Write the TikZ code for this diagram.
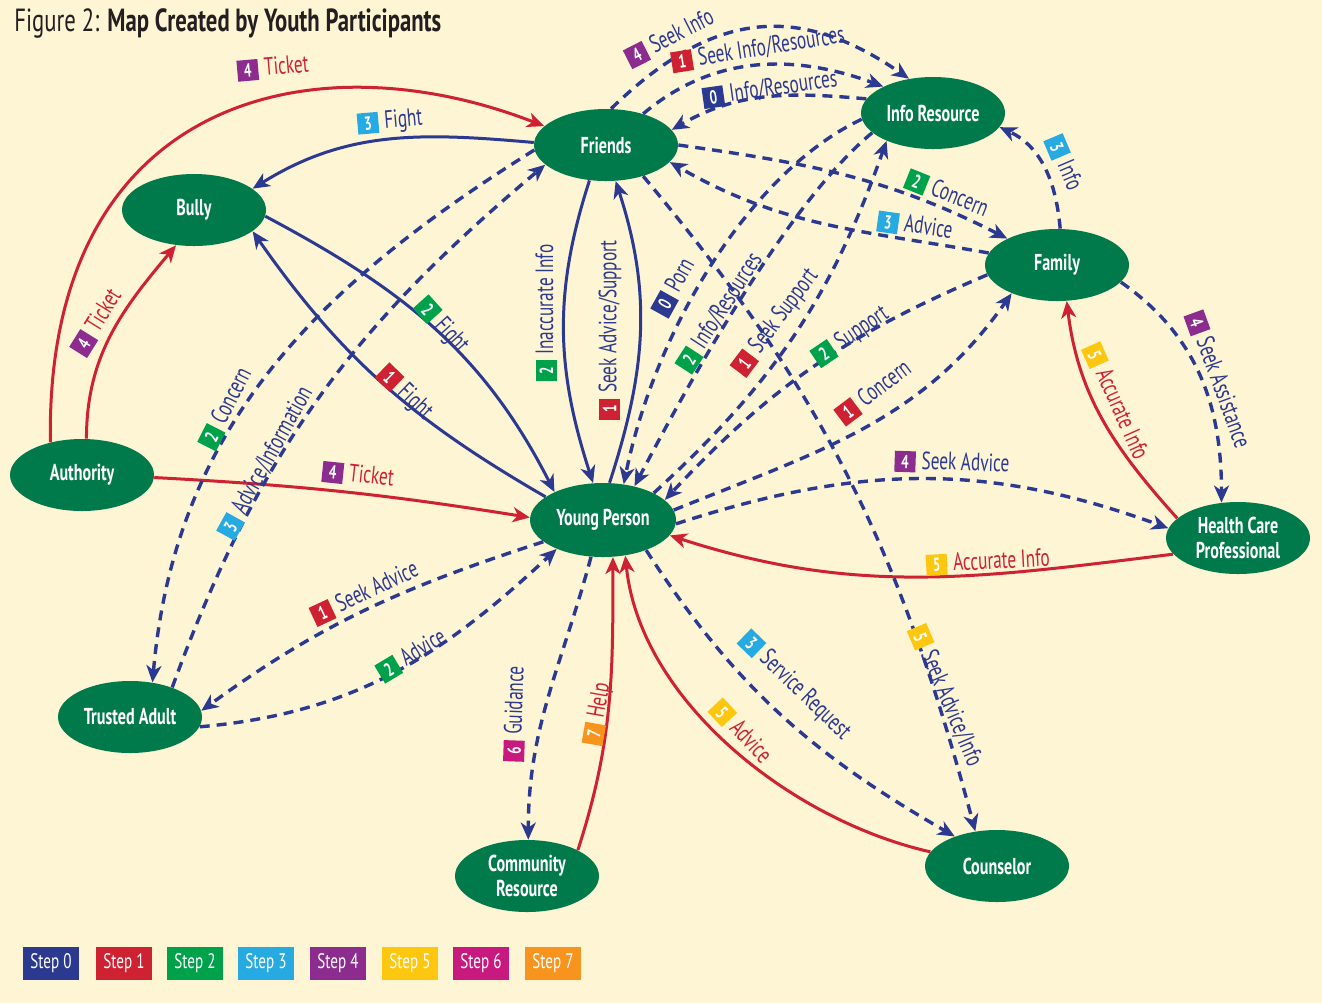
\documentclass[tikz,border=0pt]{standalone}
\usepackage{fontspec}
\setmainfont[FakeStretch=0.75]{PT Sans}
\newfontfamily\lblfont[FakeStretch=0.69]{PT Sans}
\newfontfamily\entfont[FakeStretch=0.7]{PT Sans}
\newfontfamily\ttlfont[FakeStretch=0.71]{PT Sans}
\newfontfamily\lgdfont[FakeStretch=0.72]{PT Sans}
\usetikzlibrary{shapes.geometric,arrows.meta,topaths}
\definecolor{bgc}{HTML}{FEF5D4}
\definecolor{ngreen}{HTML}{007A4A}
\definecolor{cblue}{HTML}{2B3990}
\definecolor{cred}{HTML}{CE2131}
\definecolor{s0}{HTML}{2B3990}
\definecolor{s1}{HTML}{CE2131}
\definecolor{s2}{HTML}{00A14B}
\definecolor{s3}{HTML}{27AAE1}
\definecolor{s4}{HTML}{8B2C8E}
\definecolor{s5}{HTML}{FDC70F}
\definecolor{s6}{HTML}{C8197F}
\definecolor{s7}{HTML}{F7941E}
\definecolor{titlegray}{HTML}{231F20}
\newcommand\bdg[2]{{\setlength\fboxsep{0pt}\colorbox{#1}{\makebox[10.5pt]{\rule[-1.8pt]{0pt}{10.5pt}\textcolor{white}{\fontsize{9.5}{10}\selectfont\bfseries #2}}}}\hspace{3pt}}
\tikzset{
  ent/.style={ellipse, fill=ngreen, text=white, inner sep=0pt, minimum width=72pt, minimum height=36pt, align=center, font=\entfont\fontsize{11.5}{12.5}\selectfont\bfseries},
  bline/.style={draw=cblue, line width=1.5pt},
  rline/.style={draw=cred, line width=1.5pt},
  dline/.style={draw=cblue, line width=1.7pt, dash pattern=on 5pt off 3.5pt},
  arr/.style={-{Stealth[length=8.5pt,width=7.5pt,inset=2.5pt]}},
  lbl/.style={inner sep=0.5pt, font=\lblfont\fontsize{12.5}{14}\selectfont},
  lgd/.style={minimum width=28pt, minimum height=16.5pt, inner sep=0pt, text=white, font=\lgdfont\fontsize{10.5}{12}\selectfont},
}
\begin{document}
\begin{tikzpicture}[x=0.5pt,y=-0.5pt]
\fill[bgc] (0,0) rectangle (1322,1003);
\useasboundingbox (0,0) rectangle (1322,1003);
\node[anchor=base west, inner sep=0pt, text=titlegray, font=\ttlfont\fontsize{16}{18}\selectfont] (title) at (14,31) {Figure 2: \textbf{Map Created by Youth Participants}};
% entities
\node[ent] (friends) at (606,145) {Friends};
\node[ent] (info) at (933,113) {Info Resource};
\node[ent] (bully) at (194,210) {Bully};
\node[ent] (family) at (1057,265) {Family};
\node[ent] (auth) at (82,475) {Authority};
\node[ent, minimum width=73pt, minimum height=37pt] (yp) at (603,520) {Young Person};
\node[ent] (hcp) at (1238,538) {Health Care\\Professional};
\node[ent] (ta) at (130,717) {Trusted Adult};
\node[ent] (cr) at (527,876) {Community\\Resource};
\node[ent] (couns) at (997,866) {Counselor};
% red solid
\draw[rline,arr] (auth.134) .. controls (45,100) and (310,35) .. (friends.163);
\draw[rline,arr] (auth.83) to[out=90,in=230] (bully.-117);
\draw[rline,arr] (auth.-2) to[bend left=3] (yp.178);
\draw[rline,arr] (hcp.194) to[out=187,in=-18] (yp.-13);
\draw[rline,arr] (hcp.162) to[out=132,in=-83] (family.-75);
\draw[rline,arr] (cr.27) to[out=72,in=-90] (yp.-75);
\draw[rline,arr] (couns.168) .. controls (790,820) and (640,700) .. (yp.-58);
% blue solid
\draw[bline,arr] (friends.178) to[out=175,in=32] (bully.20);
\draw[bline,arr] (bully.-5) to[out=-28,in=117] (yp.150);
\draw[bline,arr] (yp.158) to[out=150,in=-55] (bully.-20);
\draw[bline,arr] (friends.-115) to[out=-108,in=108] (yp.105);
\draw[bline,arr] (yp.80) to[out=72,in=-72] (friends.-75);
% blue dashed
\draw[dline,arr] (friends.184) to[out=212,in=85] (ta.57);
\draw[dline,arr] (ta.35) to[out=70,in=220] (friends.198);
\draw[dline,arr] (friends.82) .. controls (711,12) and (796,1) .. (info.125);
\draw[dline,arr] (friends.40) .. controls (714,54) and (795,54) .. (info.152);
\draw[dline,arr] (info.168) to[out=175,in=30] (friends.13);
\draw[dline,arr] (friends.0) to[out=-8,in=153] (family.152);
\draw[dline,arr] (family.170) to[out=170,in=-30] (friends.-15);
\draw[dline,arr] (family.85) to[out=95,in=-25] (info.-12);
\draw[dline,arr] (info.185) .. controls (750,172) and (655,330) .. (yp.60);
\draw[dline,arr] (info.198) .. controls (790,200) and (690,380) .. (yp.47);
\draw[dline,arr] (yp.28) to[bend right=14] (info.211);
\draw[dline,arr] (family.188) to[bend right=12] (yp.18);
\draw[dline,arr] (yp.8) to[out=22,in=-125] (family.212);
\draw[dline,arr] (yp.-3) to[out=18,in=160] (hcp.172);
\draw[dline,arr] (family.-15) to[out=-35,in=90] (hcp.115);
\draw[dline,arr] (yp.200) to[out=198,in=36] (ta.5);
\draw[dline,arr] (ta.-8) to[out=5,in=223] (yp.212);
\draw[dline,arr] (yp.-108) to[out=-105,in=90] (cr.88);
\draw[dline,arr] (yp.-35) to[out=-57,in=150] (couns.145);
\draw[dline,arr] (friends.-40) to[out=-50,in=105] (couns.122);
% labels
\node[lbl,text=cred,rotate=5] (l1) at (273,68) {\bdg{s4}{4}Ticket};
\node[lbl,text=cred,rotate=58] (l2) at (97,322) {\bdg{s4}{4}Ticket};
\node[lbl,text=cred,rotate=-6] (l3) at (358,475) {\bdg{s4}{4}Ticket};
\node[lbl,text=cblue,rotate=5] (l4) at (390,122) {\bdg{s3}{3}Fight};
\node[lbl,text=cblue,rotate=-48] (l5) at (442,326) {\bdg{s2}{2}Fight};
\node[lbl,text=cblue,rotate=-44] (l6) at (405,393) {\bdg{s1}{1}Fight};
\node[lbl,text=cblue,rotate=90] (l7) at (546,313) {\bdg{s2}{2}Inaccurate Info};
\node[lbl,text=cblue,rotate=90] (l8) at (610,330) {\bdg{s1}{1}Seek Advice/Support};
\node[lbl,text=cblue,rotate=63] (l9) at (226,408) {\bdg{s2}{2}Concern};
\node[lbl,text=cblue,rotate=61] (l10) at (266,462) {\bdg{s3}{3}Advice/Information};
\node[lbl,text=cblue,rotate=27] (l11) at (670,38) {\bdg{s4}{4}Seek Info};
\node[lbl,text=cblue,rotate=9] (l12) at (758,49) {\bdg{s1}{1}Seek Info/Resources};
\node[lbl,text=cblue,rotate=8] (l13) at (770,89) {\bdg{s0}{0}Info/Resources};
\node[lbl,text=cblue,rotate=-22] (l14) at (947,194) {\bdg{s2}{2}Concern};
\node[lbl,text=cblue,rotate=-8] (l15) at (915,226) {\bdg{s3}{3}Advice};
\node[lbl,text=cblue,rotate=-67] (l16) at (1064,163) {\bdg{s3}{3}Info};
\node[lbl,text=cblue,rotate=61] (l17) at (674,287) {\bdg{s0}{0}Porn};
\node[lbl,text=cblue,rotate=57] (l18) at (720,312) {\bdg{s2}{2}Info/Resources};
\node[lbl,text=cblue,rotate=53] (l19) at (776,322) {\bdg{s1}{1}Seek Support};
\node[lbl,text=cblue,rotate=34] (l20) at (851,336) {\bdg{s2}{2}Support};
\node[lbl,text=cblue,rotate=37] (l21) at (874,392) {\bdg{s1}{1}Concern};
\node[lbl,text=cblue,rotate=-2] (l22) at (952,463) {\bdg{s4}{4}Seek Advice};
\node[lbl,text=cred,rotate=3] (l23) at (988,562) {\bdg{s5}{5}Accurate Info};
\node[lbl,text=cred,rotate=-66] (l24) at (1116,402) {\bdg{s5}{5}Accurate Info};
\node[lbl,text=cblue,rotate=-70] (l25) at (1218,380) {\bdg{s4}{4}Seek Assistance};
\node[lbl,text=cblue,rotate=25] (l26) at (365,593) {\bdg{s1}{1}Seek Advice};
\node[lbl,text=cblue,rotate=31] (l27) at (412,655) {\bdg{s2}{2}Advice};
\node[lbl,text=cblue,rotate=88] (l28) at (515,714) {\bdg{s6}{6}Guidance};
\node[lbl,text=cred,rotate=80] (l29) at (598,714) {\bdg{s7}{7}Help};
\node[lbl,text=cred,rotate=-47] (l30) at (741,732) {\bdg{s5}{5}Advice};
\node[lbl,text=cblue,rotate=-44] (l31) at (795,686) {\bdg{s3}{3}Service Request};
\node[lbl,text=cblue,rotate=-67] (l32) at (946,696) {\bdg{s5}{5}Seek Advice/Info};
% legend
\node[lgd,fill=s0] (g0) at (51,963) {Step 0};
\node[lgd,fill=s1] (g1) at (124,963) {Step 1};
\node[lgd,fill=s2] (g2) at (195,963) {Step 2};
\node[lgd,fill=s3] (g3) at (266,963) {Step 3};
\node[lgd,fill=s4] (g4) at (338,963) {Step 4};
\node[lgd,fill=s5] (g5) at (410,963) {Step 5};
\node[lgd,fill=s6] (g6) at (481,963) {Step 6};
\node[lgd,fill=s7] (g7) at (553,963) {Step 7};
\end{tikzpicture}
\end{document}
